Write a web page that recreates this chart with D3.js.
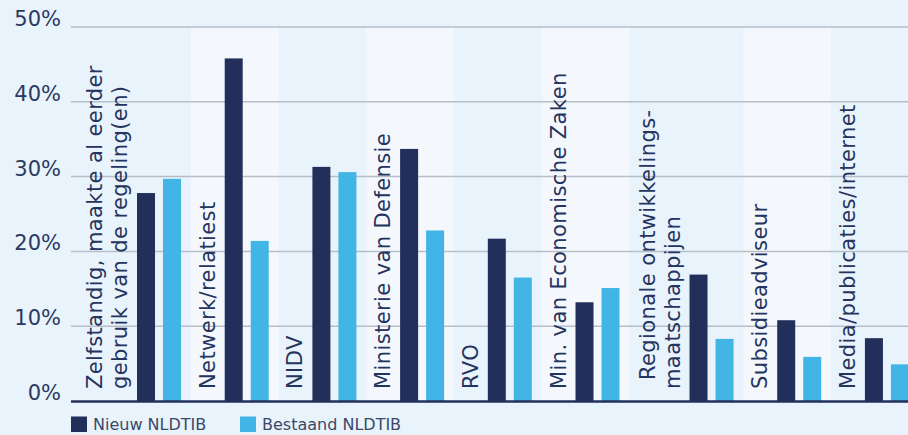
<!DOCTYPE html>
<html>
<head>
<meta charset="utf-8">
<script src="https://cdn.jsdelivr.net/npm/d3@7"></script>
<style>
  html, body { margin: 0; padding: 0; background: #e9f3fc; }
  svg { display: block; }
</style>
</head>
<body>
<svg id="chart" width="908" height="435"></svg>
<script>
// ---- data ----
const categories = [
  "Zelfstandig, maakte al eerder\ngebruik van de regeling(en)",
  "Netwerk/relatiest",
  "NIDV",
  "Ministerie van Defensie",
  "RVO",
  "Min. van Economische Zaken",
  "Regionale ontwikkelings-\nmaatschappijen",
  "Subsidieadviseur",
  "Media/publicaties/internet"
];
const seriesNames = ["Nieuw NLDTIB", "Bestaand NLDTIB"];
const nieuw    = [27.8, 45.8, 31.3, 33.7, 21.7, 13.2, 16.9, 10.8, 8.4];
const bestaand = [29.7, 21.4, 30.6, 22.8, 16.5, 15.1, 8.3, 5.9, 4.9];
const yTicks = [0, 10, 20, 30, 40, 50];
const yTickLabels = ["0%", "10%", "20%", "30%", "40%", "50%"];
const seriesColors = ["#222f5a", "#41b5e5"];

// ---- layout ----
const W = 908, H = 435;
const plotLeft = 71, plotRight = 908;
const svg = d3.select("#chart");
svg.append("rect").attr("width", W).attr("height", H).attr("fill", "#e9f3fc");

const y = d3.scaleLinear().domain([0, 50]).range([401, 27]);

// category slot widths depend on number of label lines
const lines = categories.map(c => c.split("\n"));
const widths = lines.map(l => 1 + 0.3 * (l.length - 1));
const starts = [];
widths.reduce((acc, w, i) => { starts[i] = acc; return acc + w; }, 0);
const total = d3.sum(widths);
const xUnit = d3.scaleLinear().domain([0, total]).range([77, 77 + total * 87.7]);

const xSub = d3.scaleBand().domain(seriesNames).range([0, 44]).paddingInner(8 / 26);

const bandG = svg.append("g");
categories.forEach((c, i) => {
  const x0 = Math.max(plotLeft, xUnit(starts[i]));
  const x1 = Math.min(plotRight, xUnit(starts[i] + widths[i]));
  bandG.append("rect")
    .attr("x", x0).attr("y", y(50))
    .attr("width", x1 - x0).attr("height", y(0) - y(50))
    .attr("fill", i % 2 === 1 ? "#f4f8fd" : "#e9f3fc");
});

// gridlines
const gridG = svg.append("g");
gridG.selectAll("line").data(yTicks.filter(t => t > 0)).join("line")
  .attr("x1", plotLeft).attr("x2", plotRight)
  .attr("y1", d => y(d)).attr("y2", d => y(d))
  .attr("stroke", "#b7bec8").attr("stroke-width", 1.5);

// y labels
svg.append("g").selectAll("text").data(yTicks).join("text")
  .attr("x", 61).attr("y", d => y(d) - 1)
  .attr("text-anchor", "end")
  .attr("font-family", "DejaVu Sans")
  .attr("font-size", 21)
  .attr("fill", "#2a3961")
  .text((d, i) => yTickLabels[i]);

// bars and labels
const series = [nieuw, bestaand];
categories.forEach((c, i) => {
  const bandEnd = xUnit(starts[i] + widths[i]);
  const subStart = bandEnd - 10 - 44;
  series.forEach((vals, s) => {
    svg.append("rect")
      .attr("x", subStart + xSub(seriesNames[s]))
      .attr("y", y(vals[i]))
      .attr("width", xSub.bandwidth())
      .attr("height", y(0) - y(vals[i]))
      .attr("fill", seriesColors[s]);
  });
  const darkX = subStart + xSub(seriesNames[0]);
  const ls = lines[i];
  ls.forEach((t, k) => {
    const bx = darkX - 10 - (ls.length - 1 - k) * 25;
    // the first line of a label ending in a hyphen starts slightly higher
    const by = (ls.length > 1 && k === 0 && t.endsWith("-")) ? 380 : 389;
    svg.append("text")
      .attr("transform", `translate(${bx},${by}) rotate(-90)`)
      .attr("font-family", "DejaVu Sans")
      .attr("font-size", 21)
      .attr("letter-spacing", 0.4)
      .attr("fill", "#25345e")
      .text(t);
  });
});

// baseline axis
svg.append("line")
  .attr("x1", plotLeft).attr("x2", plotRight)
  .attr("y1", y(0) + 0.5).attr("y2", y(0) + 0.5)
  .attr("stroke", "#22305a").attr("stroke-width", 2.5);

// legend
const legendX = [71, 240];
seriesNames.forEach((n, s) => {
  svg.append("rect")
    .attr("x", legendX[s]).attr("y", 416.5)
    .attr("width", 16).attr("height", 15.5)
    .attr("fill", seriesColors[s]);
  svg.append("text")
    .attr("x", legendX[s] + 22).attr("y", 430)
    .attr("font-family", "DejaVu Sans")
    .attr("font-size", 16)
    .attr("fill", "#3b4869")
    .text(n);
});
</script>
</body>
</html>
